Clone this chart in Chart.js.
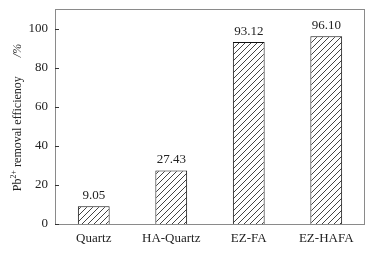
<!DOCTYPE html>
<html><head><meta charset="utf-8">
<script src="https://cdn.jsdelivr.net/npm/chart.js@4.4.1/dist/chart.umd.min.js"></script>
<style>html,body{margin:0;padding:0;background:#fff}#wrap{width:375px;height:254px}</style>
</head><body><div id="wrap"><canvas id="c" width="375" height="254"></canvas></div>
<script>
const categories = ["Quartz", "HA-Quartz", "EZ-FA", "EZ-HAFA"];
const removalEfficiency = [9.05, 27.43, 93.12, 96.10];
const yTicks = [0, 20, 40, 60, 80, 100];

const FONT = "'Liberation Serif','Times New Roman',serif";

function hatch() {
  const s = 6;
  const p = document.createElement('canvas');
  p.width = s; p.height = s;
  const g = p.getContext('2d');
  g.fillStyle = '#fff'; g.fillRect(0,0,s,s);
  g.strokeStyle = '#222'; g.lineWidth = 0.85;
  g.beginPath();
  g.moveTo(-1, s+1); g.lineTo(s+1, -1);
  g.moveTo(-1, 1); g.lineTo(1, -1);
  g.moveTo(s-1, s+1); g.lineTo(s+1, s-1);
  g.stroke();
  return g.createPattern(p, 'repeat');
}

const decor = {
  id: 'decor',
  afterDatasetsDraw(chart) {
    const ctx = chart.ctx, a = chart.chartArea, y = chart.scales.y;
    ctx.save();
    ctx.strokeStyle = '#8a8a8a'; ctx.lineWidth = 1;
    ctx.strokeRect(Math.round(a.left)+0.5, Math.round(a.top)+0.5, Math.round(a.right-a.left)-1, Math.round(a.bottom-a.top));
    ctx.strokeStyle = '#333';
    yTicks.forEach(v => {
      const py = Math.round(y.getPixelForValue(v)) + 0.5;
      ctx.beginPath(); ctx.moveTo(a.left, py); ctx.lineTo(a.left + 4, py); ctx.stroke();
    });
    const meta = chart.getDatasetMeta(0);
    ctx.fillStyle = '#222'; ctx.font = '13px ' + FONT;
    ctx.textAlign = 'center'; ctx.textBaseline = 'bottom';
    meta.data.forEach((bar, i) => {
      ctx.fillText(removalEfficiency[i].toFixed(2), bar.x, bar.y - 4);
    });
    // y title
    ctx.translate(18, (a.top + a.bottom) / 2 + 1);
    ctx.rotate(-Math.PI / 2);
    ctx.textBaseline = 'middle'; ctx.textAlign = 'left';
    const parts = [["Pb", 12, 0], ["2+", 8, -4], [" removal efficienoy", 12, 0]];
    const gap = 19;
    let total = 0;
    parts.forEach(p => { ctx.font = p[1] + 'px ' + FONT; total += ctx.measureText(p[0]).width; });
    ctx.font = 'italic 12px ' + FONT;
    const tail = "/%";
    const tw = ctx.measureText(tail).width;
    let x = -(total + gap + tw) / 2;
    parts.forEach(p => {
      ctx.font = p[1] + 'px ' + FONT;
      ctx.fillText(p[0], x, p[2]);
      x += ctx.measureText(p[0]).width;
    });
    ctx.font = 'italic 12px ' + FONT;
    ctx.fillText(tail, x + gap, 0);
    ctx.restore();
  }
};

new Chart(document.getElementById('c'), {
  type: 'bar',
  data: {
    labels: categories,
    datasets: [{
      data: removalEfficiency,
      backgroundColor: hatch(),
      borderColor: '#111',
      borderWidth: 1,
      barPercentage: 0.41,
      categoryPercentage: 1.0
    }]
  },
  options: {
    responsive: false,
    animation: false,
    devicePixelRatio: 1,
    layout: { padding: { top: 9, right: 10, left: 0, bottom: 0 } },
    plugins: { legend: { display: false }, tooltip: { enabled: false } },
    scales: {
      x: {
        grid: { display: false, drawTicks: false },
        border: { display: false },
        ticks: { color: '#222', font: { family: FONT, size: 13 }, padding: 7, maxRotation: 0 },
        afterFit(s) { s.height = 30; s.paddingLeft = 0; s.paddingRight = 0; }
      },
      y: {
        min: 0, max: 110,
        afterBuildTicks(s) { s.ticks = yTicks.map(v => ({ value: v })); },
        grid: { display: false, drawTicks: false },
        border: { display: false },
        ticks: { color: '#222', font: { family: FONT, size: 13 }, padding: 7 },
        afterFit(s) { s.width = 55; s.paddingTop = 0; s.paddingBottom = 0; }
      }
    }
  },
  plugins: [decor]
});
</script></body></html>
